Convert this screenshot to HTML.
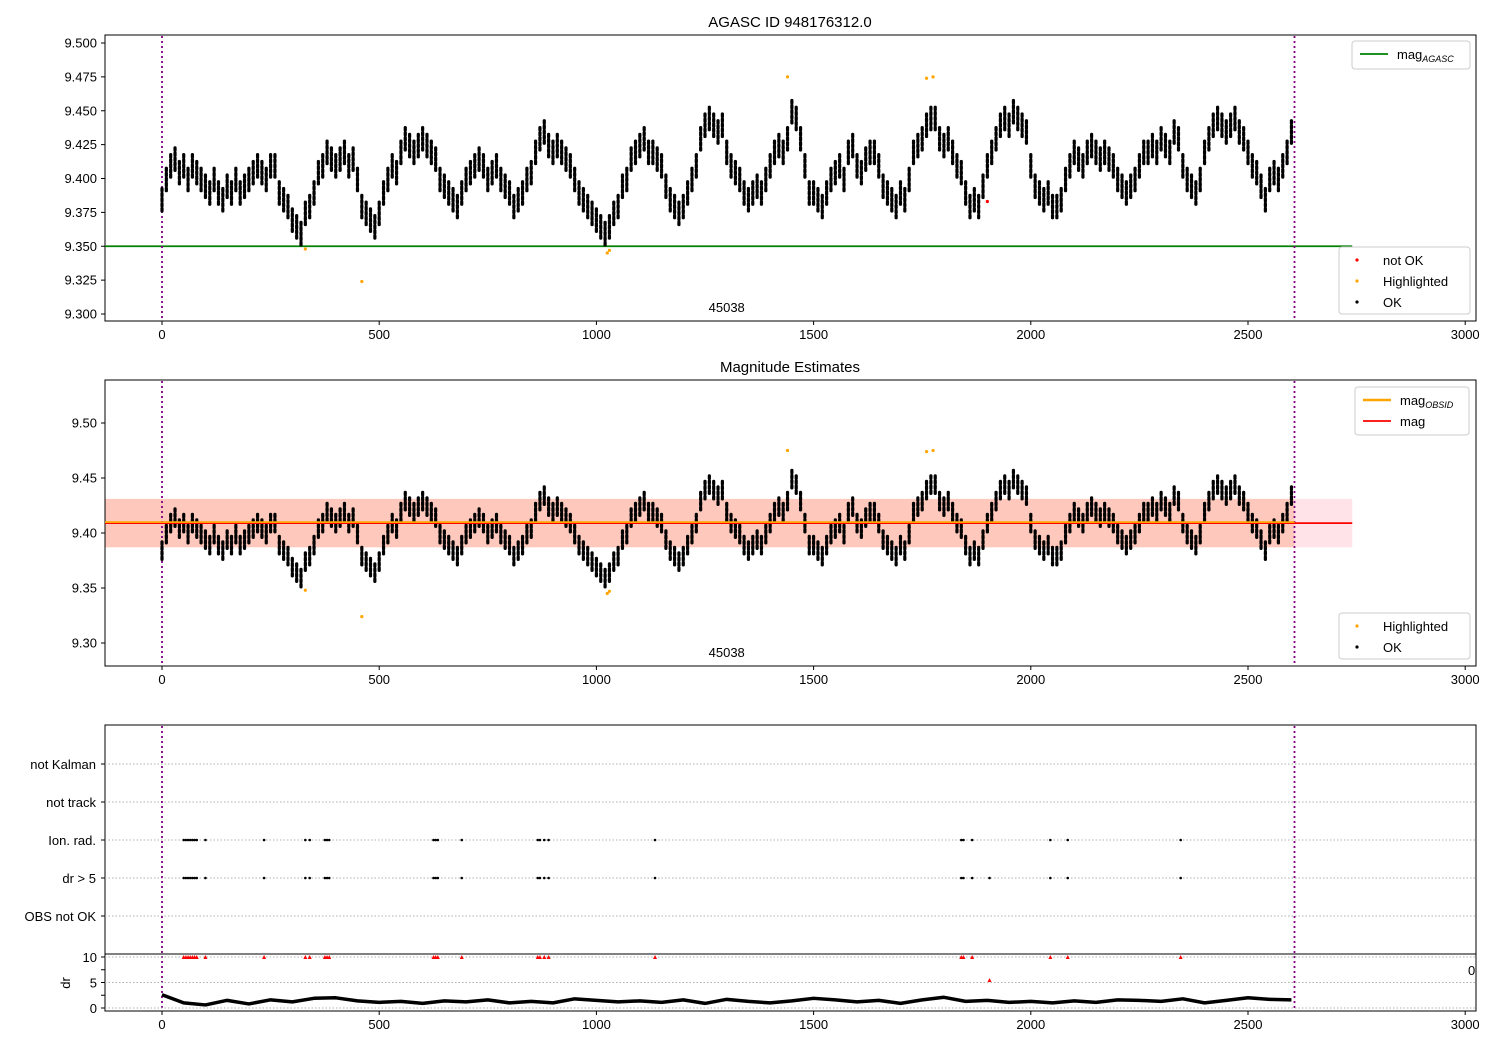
<!DOCTYPE html>
<html><head><meta charset="utf-8"><style>
html,body{margin:0;padding:0;background:#fff}
svg{display:block;font-family:"Liberation Sans","DejaVu Sans",sans-serif}
</style></head><body>
<svg id="c" width="1500" height="1050" viewBox="0 0 1500 1050"></svg>
<script>
const times = [];
for (let t = 0; t <= 2600; t += 10) times.push(t);
const magValues = [
9.385,9.40,9.41,9.415,9.405,9.41,9.40,9.41,9.405,9.40,
9.395,9.39,9.40,9.39,9.385,9.395,9.39,9.40,9.39,9.395,
9.40,9.405,9.41,9.405,9.40,9.41,9.41,9.39,9.385,9.38,
9.37,9.365,9.36,9.375,9.38,9.39,9.405,9.41,9.42,9.415,
9.41,9.415,9.42,9.41,9.415,9.40,9.38,9.375,9.37,9.365,
9.375,9.39,9.40,9.41,9.405,9.42,9.43,9.425,9.42,9.425,
9.43,9.425,9.42,9.415,9.40,9.395,9.39,9.385,9.38,9.39,
9.40,9.405,9.41,9.415,9.41,9.40,9.405,9.41,9.40,9.395,
9.39,9.38,9.385,9.39,9.40,9.405,9.42,9.43,9.435,9.425,
9.42,9.425,9.42,9.415,9.41,9.40,9.39,9.385,9.38,9.375,
9.37,9.365,9.36,9.365,9.375,9.38,9.395,9.40,9.415,9.42,
9.425,9.43,9.42,9.42,9.415,9.41,9.395,9.385,9.38,9.375,
9.38,9.39,9.40,9.41,9.43,9.44,9.445,9.44,9.435,9.44,
9.42,9.41,9.405,9.40,9.39,9.385,9.39,9.395,9.39,9.40,
9.41,9.42,9.425,9.42,9.43,9.45,9.445,9.43,9.41,9.39,
9.39,9.385,9.38,9.39,9.40,9.405,9.41,9.40,9.42,9.425,
9.41,9.405,9.415,9.42,9.42,9.41,9.395,9.39,9.385,9.38,
9.39,9.385,9.40,9.42,9.425,9.43,9.44,9.445,9.445,9.43,
9.425,9.43,9.42,9.41,9.405,9.39,9.38,9.385,9.38,9.395,
9.41,9.42,9.43,9.44,9.445,9.44,9.45,9.445,9.44,9.435,
9.41,9.395,9.39,9.385,9.39,9.38,9.38,9.385,9.40,9.41,
9.42,9.415,9.41,9.42,9.425,9.42,9.415,9.42,9.415,9.41,
9.40,9.395,9.39,9.395,9.40,9.41,9.42,9.42,9.425,9.42,
9.43,9.425,9.42,9.435,9.43,9.41,9.40,9.395,9.39,9.40,
9.42,9.43,9.44,9.445,9.44,9.435,9.44,9.445,9.435,9.43,
9.42,9.41,9.405,9.395,9.385,9.40,9.405,9.40,9.41,9.42,
9.435];
const magScatter = 0.009;
const hlTimes = [330,460,1025,1030,1440,1760,1775];
const hlMags = [9.348,9.324,9.345,9.347,9.475,9.474,9.475];
const notOkTimes = [1900];
const notOkMags = [9.383];
const flagTimes = [50,55,60,65,70,75,80,100,235,330,340,375,380,385,625,630,635,690,865,870,880,890,1135,1840,1845,1865,2045,2085,2345];
const drExtraTimes = [1905];
const drExtraVals = [5.5];
const drValues = [2.6,1.0,0.6,1.5,0.8,1.6,1.2,1.9,2.0,1.4,
1.1,1.3,0.9,1.4,1.2,1.6,1.0,1.3,1.0,1.8,
1.5,1.2,1.4,1.1,1.6,0.9,1.7,1.3,1.0,1.4,
1.9,1.6,1.2,1.5,0.9,1.6,2.1,1.3,1.5,1.1,
1.3,1.0,1.4,1.1,1.6,1.5,1.3,1.8,1.0,1.5,
2.0,1.7,1.6];
const categories = ["not Kalman","not track","Ion. rad.","dr > 5","OBS not OK"];
const xTicks = [0,500,1000,1500,2000,2500,3000];
const topYTicks = [9.300,9.325,9.350,9.375,9.400,9.425,9.450,9.475,9.500];
const midYTicks = [9.30,9.35,9.40,9.45,9.50];
const drTicks = [0,5,10];
const obsBounds = [0,2607];
const agascMag = 9.350, meanMag = 9.409, stdLo = 9.387, stdHi = 9.431;

const svg = document.getElementById('c');
const NS = 'http://www.w3.org/2000/svg';
function el(tag, attrs, parent, text){const e=document.createElementNS(NS,tag);for(const k in attrs)e.setAttribute(k,attrs[k]);if(text!==undefined)e.textContent=text;(parent||svg).appendChild(e);return e;}
const X = t => 162 + t*0.4344;
const yTop = v => 314 - (v-9.300)*1355;
const yMid = v => 643 - (v-9.30)*1100;
const catY = i => 764 + i*38;
const yDr = v => 1008 - v*5.1;

function frame(y0,y1,name){
  const r = el('rect',{x:105,y:y0,width:1371,height:y1-y0,fill:'none',stroke:'#000','stroke-width':1});
  
  
}
function xAxis(yb,name){
  const g = el('g',{});
  
  
  xTicks.forEach(t=>{el('line',{x1:X(t),x2:X(t),y1:yb,y2:yb+4,stroke:'#000'},g);el('text',{x:X(t),y:yb+18,'text-anchor':'middle','font-size':13},g,String(t));});
}
function yAxis(ticks,fy,fmt,name){
  const g = el('g',{});
  
  
  ticks.forEach(v=>{el('line',{x1:101,x2:105,y1:fy(v),y2:fy(v),stroke:'#000'},g);el('text',{x:97,y:fy(v)+4.5,'text-anchor':'end','font-size':13},g,fmt(v));});
}
function vlines(y0,y1,name){
  obsBounds.forEach(t=>{const l=el('line',{x1:X(t),x2:X(t),y1:y0,y2:y1,stroke:'#800080','stroke-width':1.8,'stroke-dasharray':'2,3'});
  
  });
}
function dots(ts,vs,fy,color,r,name){
  const g=el('g',{});
  
  
  ts.forEach((t,i)=>el('circle',{cx:X(t),cy:fy(vs[i]),r:r,fill:color},g));
}
function clouds(ts,vs,fy,name){
  const g=el('g',{});
  
  
  ts.forEach((t,i)=>el('line',{x1:X(t),x2:X(t),y1:fy(vs[i]-magScatter),y2:fy(vs[i]+magScatter),stroke:'#000','stroke-width':3.2,'stroke-linecap':'round','stroke-dasharray':'2.5,2.5'},g));
}
function legend(x,y,w,h,entries,name){
  const g=el('g',{});
  
  
  el('rect',{x:x,y:y,width:w,height:h,rx:3,fill:'#fff','fill-opacity':0.8,stroke:'#ccc'},g);
  entries.forEach((e,i)=>{
    const yy=y+13+i*21;
    if(e.type==='dot') el('circle',{cx:x+18,cy:yy,r:1.6,fill:e.color},g);
    else el('line',{x1:x+8,x2:x+36,y1:yy,y2:yy,stroke:e.color,'stroke-width':e.w||1.8},g);
    const tx=el('text',{x:x+e.tx,y:yy+5,'font-size':13},g,e.label);
    if(e.sub) el('tspan',{'font-size':9,'font-style':'italic',dy:3},tx,e.sub);
  });
}

// Top panel
el('text',{x:790,y:27,'text-anchor':'middle','font-size':15},svg,'AGASC ID 948176312.0');
frame(35,321,'top-plot-area');
yAxis(topYTicks,yTop,v=>v.toFixed(3),'top-y-axis');
xAxis(321,'top-x-axis');
const gl=el('line',{x1:105,x2:X(2740),y1:yTop(agascMag),y2:yTop(agascMag),stroke:'#008000','stroke-width':1.8});


vlines(36,320,'obs-boundary-line');
clouds(times,magValues,yTop,'ok-points-top');
dots(hlTimes,hlMags,yTop,'orange',1.6,'highlighted-points-top');
dots(notOkTimes,notOkMags,yTop,'red',1.6,'not-ok-points');
el('text',{x:X(1300),y:312,'text-anchor':'middle','font-size':13},svg,'45038');
legend(1352,41,118,28,[{type:'line',color:'#008000',label:'mag',sub:'AGASC',tx:45}],'top-legend-mag');
legend(1339,247,131,67,[{type:'dot',color:'red',label:'not OK',tx:44},{type:'dot',color:'orange',label:'Highlighted',tx:44},{type:'dot',color:'#000',label:'OK',tx:44}],'top-legend-status');

// Middle panel
el('text',{x:790,y:372,'text-anchor':'middle','font-size':15},svg,'Magnitude Estimates');
const pink=el('rect',{x:105,y:yMid(stdHi),width:X(2740)-105,height:yMid(stdLo)-yMid(stdHi),fill:'#ffc0cb','fill-opacity':0.45});


const orng=el('rect',{x:105,y:yMid(stdHi),width:X(2607)-105,height:yMid(stdLo)-yMid(stdHi),fill:'#ffa07a','fill-opacity':0.4});


frame(380,666,'middle-plot-area');
yAxis(midYTicks,yMid,v=>v.toFixed(2),'middle-y-axis');
xAxis(666,'middle-x-axis');
vlines(381,665,'obs-boundary-line');
clouds(times,magValues,yMid,'ok-points-middle');
dots(hlTimes,hlMags,yMid,'orange',1.6,'highlighted-points-middle');
const ml=el('line',{x1:105,x2:X(2740),y1:yMid(meanMag),y2:yMid(meanMag),stroke:'red','stroke-width':1.8});


const ol=el('line',{x1:105,x2:X(2607),y1:yMid(meanMag)-1,y2:yMid(meanMag)-1,stroke:'orange','stroke-width':1.8});


el('text',{x:X(1300),y:657,'text-anchor':'middle','font-size':13},svg,'45038');
legend(1355,387,114,48,[{type:'line',color:'orange',label:'mag',sub:'OBSID',tx:45,w:2.5},{type:'line',color:'red',label:'mag',tx:45}],'middle-legend-mag');
legend(1339,613,131,46,[{type:'dot',color:'orange',label:'Highlighted',tx:44},{type:'dot',color:'#000',label:'OK',tx:44}],'middle-legend-status');

// Flags panel
frame(725,954,'flags-plot-area');
categories.forEach((c,i)=>{
  const g=el('g',{});
  
  
  el('line',{x1:105,x2:1476,y1:catY(i),y2:catY(i),stroke:'#b0b0b0','stroke-dasharray':'1.5,2'},g);
  el('line',{x1:101,x2:105,y1:catY(i),y2:catY(i),stroke:'#000'},g);
  el('text',{x:96,y:catY(i)+5,'text-anchor':'end','font-size':13},g,c);
});
vlines(726,1011,'obs-boundary-line');
dots(flagTimes,flagTimes.map(()=>0),v=>catY(2),'#000',1.3,'ion-rad-flags');
dots(flagTimes.concat(drExtraTimes),flagTimes.concat(drExtraTimes).map(()=>0),v=>catY(3),'#000',1.3,'dr-flags');

// dr panel
frame(954,1011,'dr-plot-area');
drTicks.forEach(v=>{
  el('line',{x1:105,x2:1476,y1:yDr(v),y2:yDr(v),stroke:'#b0b0b0','stroke-dasharray':'1.5,2'});
  el('line',{x1:101,x2:105,y1:yDr(v),y2:yDr(v),stroke:'#000'});
  el('text',{x:97,y:yDr(v)+5,'text-anchor':'end','font-size':13},svg,String(v));
});
el('line',{x1:101,x2:105,y1:yDr(7.5),y2:yDr(7.5),stroke:'#000'});
el('line',{x1:101,x2:105,y1:yDr(2.5),y2:yDr(2.5),stroke:'#000'});
el('text',{x:70,y:983,'font-size':13,transform:'rotate(-90 70 983)','text-anchor':'middle'},svg,'dr');
el('text',{x:1468,y:975,'font-size':13},svg,'0');
const drStep = 2600/(drValues.length-1);
const dp=el('path',{d:drValues.map((v,i)=>(i?'L':'M')+X(i*drStep)+','+yDr(v)).join(''),fill:'none',stroke:'#000','stroke-width':3.5,'stroke-linejoin':'round'});


const tg=el('g',{});


flagTimes.concat(drExtraTimes).forEach((t,i)=>{
  const v = i<flagTimes.length ? 10 : drExtraVals[i-flagTimes.length];
  const x=X(t), y=yDr(v);
  el('path',{d:`M${x-2},${y+2}L${x+2},${y+2}L${x},${y-2}Z`,fill:'red'},tg);
});
xAxis(1011,'bottom-x-axis');
</script>
</body></html>
